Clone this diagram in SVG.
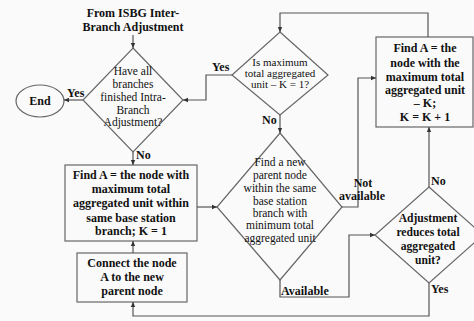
<svg xmlns="http://www.w3.org/2000/svg" width="474" height="321" viewBox="0 0 474 321">
<style>
.bg{fill:#fafafa}
.shape{fill:#fafafa;stroke:#666;stroke-width:1.2}
.conn{fill:none;stroke:#555;stroke-width:1.2}
text{font-family:"Liberation Serif","Times New Roman",serif;fill:#111;text-anchor:middle}
.b{font-weight:bold;font-size:12px}
.b2{font-weight:bold;font-size:11.6px}
.r{font-size:11.5px}
.r2{font-size:11px}
.lbl{font-weight:bold;font-size:12px;text-anchor:start}
</style>
<defs>
<marker id="ah" markerWidth="6" markerHeight="6" refX="5" refY="3" orient="auto" markerUnits="userSpaceOnUse">
<path d="M0,0.8 L5,3 L0,5.2 Z" fill="#333"/>
</marker>
</defs>
<rect class="bg" x="0" y="0" width="474" height="321"/>

<g id="start">
<text class="b" x="133" y="17">From ISBG Inter-</text>
<text class="b" x="133" y="31">Branch Adjustment</text>
</g>

<g id="end">
<ellipse class="shape" cx="40" cy="101" rx="24" ry="16"/>
<text class="b" x="40" y="105">End</text>
</g>

<g id="d1">
<polygon class="shape" points="133,48 183,100 133,152 83,100"/>
<text class="r" x="133" y="75">Have all</text>
<text class="r" x="133" y="88">branches</text>
<text class="r" x="133" y="101">finished Intra-</text>
<text class="r" x="133" y="114">Branch</text>
<text class="r" x="133" y="126">Adjustment?</text>
</g>

<g id="d2">
<polygon class="shape" points="280,32 328,75 280,115 232,75"/>
<text class="r2" x="280" y="66">Is maximum</text>
<text class="r2" x="280" y="77">total aggregated</text>
<text class="r2" x="280" y="88">unit – K = 1?</text>
</g>

<g id="d3">
<polygon class="shape" points="280,133 342,207 280,280 217,207"/>
<text class="r" x="280" y="166">Find a new</text>
<text class="r" x="280" y="179">parent node</text>
<text class="r" x="280" y="192">within the same</text>
<text class="r" x="280" y="205">base station</text>
<text class="r" x="280" y="217">branch with</text>
<text class="r" x="280" y="229">minimum total</text>
<text class="r" x="280" y="242">aggregated unit</text>
</g>

<g id="d4">
<polygon class="shape" points="429,187 483,235 429,283 375,235"/>
<text class="b2" x="428" y="222">Adjustment</text>
<text class="b2" x="428" y="236">reduces total</text>
<text class="b2" x="428" y="250">aggregated</text>
<text class="b2" x="428" y="264">unit?</text>
</g>

<g id="box1">
<rect class="shape" x="65" y="165" width="132" height="76"/>
<text class="b" x="131" y="179">Find A = the node with</text>
<text class="b" x="131" y="193">maximum total</text>
<text class="b" x="131" y="207">aggregated unit within</text>
<text class="b" x="131" y="222">same base station</text>
<text class="b" x="131" y="235">branch; K = 1</text>
</g>

<g id="box2">
<rect class="shape" x="77" y="253" width="110" height="49"/>
<text class="b" x="132" y="267">Connect the node</text>
<text class="b" x="132" y="281">A to the new</text>
<text class="b" x="132" y="295">parent node</text>
</g>

<g id="box3">
<rect class="shape" x="376" y="37" width="97" height="90"/>
<text class="b" x="425" y="52">Find A = the</text>
<text class="b" x="425" y="67">node with the</text>
<text class="b" x="425" y="81">maximum total</text>
<text class="b" x="425" y="94">aggregated unit</text>
<text class="b" x="425" y="107">– K;</text>
<text class="b" x="425" y="121">K = K + 1</text>
</g>

<g id="connectors">
<path class="conn" d="M133,35 V48" marker-end="url(#ah)"/>
<path class="conn" d="M83,100 H64" marker-end="url(#ah)"/>
<path class="conn" d="M133,152 V165" marker-end="url(#ah)"/>
<path class="conn" d="M232,75 H206 V100 H183" marker-end="url(#ah)"/>
<path class="conn" d="M280,115 V133" marker-end="url(#ah)"/>
<path class="conn" d="M197,207 H217" marker-end="url(#ah)"/>
<path class="conn" d="M342,207 H358 V78 H376" marker-end="url(#ah)"/>
<path class="conn" d="M280,280 V297 H349 V235 H375" marker-end="url(#ah)"/>
<path class="conn" d="M429,283 V316 H133 V302" marker-end="url(#ah)"/>
<path class="conn" d="M429,187 V127" marker-end="url(#ah)"/>
<path class="conn" d="M428,37 V13 H280 V32" marker-end="url(#ah)"/>
<path class="conn" d="M133,253 V241" marker-end="url(#ah)"/>
<text class="lbl" x="67" y="97">Yes</text>
<text class="lbl" x="136" y="159">No</text>
<text class="lbl" x="212" y="71">Yes</text>
<text class="lbl" x="262" y="124">No</text>
<text class="b" x="363" y="187">Not</text>
<text class="b" x="362" y="200">available</text>
<text class="lbl" x="281" y="295">Available</text>
<text class="lbl" x="431" y="185">No</text>
<text class="lbl" x="431" y="293">Yes</text>
</g>
</svg>
